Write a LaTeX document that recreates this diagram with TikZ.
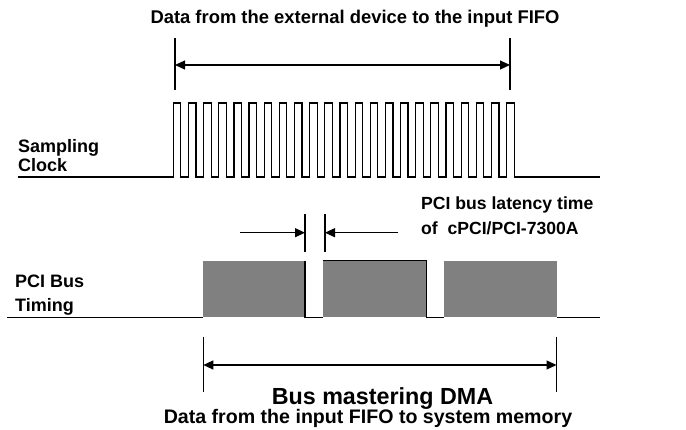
\documentclass[tikz,border=0pt]{standalone}
\usepackage{fontspec}
\setmainfont{Liberation Sans}
\usepackage{tikz}
\usetikzlibrary{arrows.meta}
\tikzstyle{heading} = [font=\bfseries\fontsize{18.4}{22}\selectfont, inner sep=0pt, anchor=base]
\tikzstyle{signame} = [font=\bfseries\fontsize{18}{19}\selectfont, align=left, anchor=north west, inner sep=0pt]
\tikzstyle{wave} = [line width=1.2pt, draw=black, line join=miter]
\tikzstyle{block} = [fill=black!50, draw=none]
\tikzstyle{tick} = [line width=1.2pt]
\tikzstyle{arrow} = [line width=1.2pt, {Triangle[length=10pt,width=9pt]}-{Triangle[length=10pt,width=9pt]}]
\tikzstyle{pointer} = [line width=1.2pt, -{Triangle[length=10pt,width=9pt]}]

\begin{document}
\begin{tikzpicture}[x=1pt, y=-1pt]
\useasboundingbox (0,0) rectangle (686,430);

% texts
\node (fifoin) [heading] at (355,24) {Data from the external device to the input FIFO};
\node (clklabel) [signame] at (18,139) {Sampling\\Clock};
\node (pcilabel) [signame, font=\bfseries\fontsize{18}{23.4}\selectfont] at (15,275) {PCI Bus\\Timing};
\node (latency) [signame, font=\bfseries\fontsize{17.6}{24.4}\selectfont] at (421,196.7) {PCI bus latency time\\of\ \ cPCI/PCI-7300A};
\node (dma) [heading, font=\bfseries\fontsize{23.3}{26}\selectfont] at (382.5,405) {Bus mastering DMA};
\node (fifoout) [heading, font=\bfseries\fontsize{19.6}{22}\selectfont] at (368,423.5) {Data from the input FIFO to system memory};

% marker coordinates
\coordinate (clkTopL) at (175,38);
\coordinate (clkBotL) at (175,90);
\coordinate (clkTopR) at (510,38);
\coordinate (clkBotR) at (510,90);
\coordinate (clkL) at (175,65);
\coordinate (clkR) at (510,65);

\coordinate (latTopL) at (305,214);
\coordinate (latBotL) at (305,252);
\coordinate (latTopR) at (325,214);
\coordinate (latBotR) at (325,252);
\coordinate (latFromL) at (240,232.7);
\coordinate (latL) at (305,232.7);
\coordinate (latFromR) at (398,232.7);
\coordinate (latR) at (325,232.7);

\coordinate (dmaTopL) at (203.3,337);
\coordinate (dmaBotL) at (203.3,392);
\coordinate (dmaTopR) at (556.5,337);
\coordinate (dmaBotR) at (556.5,392);
\coordinate (dmaL) at (203.3,365);
\coordinate (dmaR) at (556.5,365);

% sampling clock
\draw[wave] (18,177) -- (173.3,177)
  \foreach \i in {0,...,22} { -- ++(0,-74) -- ++(7.5,0) -- ++(0,74) -- ++(7.65,0) }
  -- (600,177);

% pci bus timing
\fill[block] (203.3,260.7) rectangle (305,317.3);
\fill[block] (323.3,260.7) rectangle (426.7,317.3);
\fill[block] (444,260.7) rectangle (557.3,317.3);
\draw[wave] (7,317.3) -- (203.3,317.3);
\draw[wave] (305,260.7) -- (305,317.3) -- (323.3,317.3);
\draw[wave] (323.3,260.7) -- (426.7,260.7) -- (426.7,317.3) -- (444,317.3);
\draw[wave] (557.3,317.3) -- (600,317.3);

% dimension marks
\draw[tick] (clkTopL) -- (clkBotL);
\draw[tick] (clkTopR) -- (clkBotR);
\draw[arrow] (clkL) -- (clkR);

\draw[tick] (latTopL) -- (latBotL);
\draw[tick] (latTopR) -- (latBotR);
\draw[pointer] (latFromL) -- (latL);
\draw[pointer] (latFromR) -- (latR);

\draw[tick] (dmaTopL) -- (dmaBotL);
\draw[tick] (dmaTopR) -- (dmaBotR);
\draw[arrow] (dmaL) -- (dmaR);
\end{tikzpicture}
\end{document}
